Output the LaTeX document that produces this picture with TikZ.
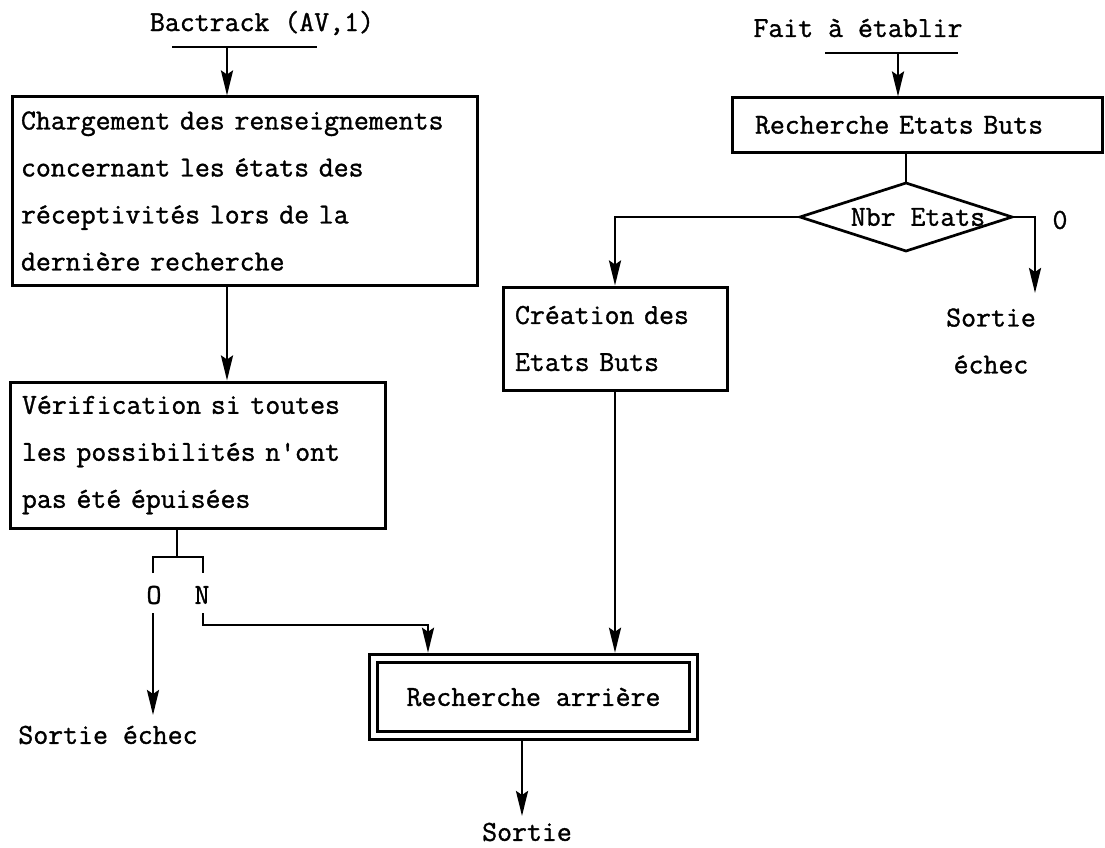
\documentclass[tikz,border=0pt]{standalone}
\usepackage{fontspec}
\newfontfamily\twfont{Latin Modern Mono}[FakeBold=1.2]
\usetikzlibrary{shapes.geometric,arrows.meta}
\begin{document}
\begin{tikzpicture}[x=1pt,y=-1pt,
  tt/.style={font=\fontsize{29}{47}\selectfont\twfont},
  box/.style={tt, draw, line width=3pt, align=left, inner ysep=0pt},
  conn/.style={line width=2.7pt, -{Stealth[length=25pt,width=12pt,inset=4pt]}},
  plain/.style={line width=2.7pt},
  lbl/.style={tt, inner sep=0pt}]
\useasboundingbox (0,0) rectangle (1105,848);

% ---------- left column ----------
\node[lbl] (bact) at (262,23) {Bactrack (AV,1)};
\coordinate (b1l) at (172,47);
\coordinate (b1r) at (317,47);
\coordinate (in1) at (227,47);
\draw[plain] (b1l) -- (b1r);

\node[box, text width=447pt, inner xsep=9pt, minimum height=188pt] (charg) at (244.5,191)
  {Chargement des renseignements\\concernant les états des\\réceptivités lors de la\\dernière recherche};
\draw[conn] (in1) -- (in1 |- charg.north);

\node[box, text width=351pt, inner xsep=12pt, minimum height=146pt] (verif) at (197.5,455)
  {Vérification si toutes\\les possibilités n'ont\\pas été épuisées};
\draw[conn] (in1 |- charg.south) -- (in1 |- verif.north);

\coordinate (vs) at (177,557);
\coordinate (olt) at (153,573);
\coordinate (nrt) at (203,573);
\draw[plain] (vs |- verif.south) -- (vs);
\draw[plain] (olt) -- (olt |- vs) -- (nrt |- vs) -- (nrt);
\node[lbl] (O1) at (154,595) {O};
\node[lbl] (N1) at (202,595) {N};

\coordinate (ostart) at (153,613);
\coordinate (oend) at (153,715);
\draw[conn] (ostart) -- (oend);
\node[lbl] (se1) at (108,735) {Sortie échec};

% ---------- bottom ----------
\node[tt, draw, line width=3pt, double, double distance=5pt, minimum width=320pt,
      minimum height=77.5pt, outer sep=5.5pt, inner sep=0pt] (rech) at (533.5,697)
  {Recherche arrière};

\coordinate (nstart) at (203,613);
\coordinate (nturn) at (428,625);
\draw[conn] (nstart) |- (nturn) -- (nturn |- rech.north);

\coordinate (exit) at (522,816);
\draw[conn] (exit |- rech.south) -- (exit);
\node[lbl] (sortie) at (527,832) {Sortie};

% ---------- right column ----------
\node[lbl] (fait) at (858,28) {Fait à établir};
\coordinate (b2l) at (825,53);
\coordinate (b2r) at (958,53);
\coordinate (in2) at (898,53);
\draw[plain] (b2l) -- (b2r);

\node[box, text width=324pt, inner xsep=23pt, minimum height=54pt] (reb) at (917,125)
  {Recherche Etats Buts};
\draw[conn] (in2) -- (in2 |- reb.north);

\node[tt, diamond, draw, line width=2.7pt, minimum width=212pt, minimum height=68pt,
      inner sep=0pt, outer sep=0pt] (nbr) at (906,217)
  {\makebox[0pt]{\hspace{24pt}Nbr Etats}};
\draw[plain] (nbr.north |- reb.south) -- (nbr.north);

\node[box, text width=200pt, inner xsep=12pt, minimum height=103pt] (crea) at (615,338.5)
  {Création des\\Etats Buts};
\draw[conn] (nbr.west) -| (crea.north);
\draw[conn] (crea.south) -- (crea.south |- rech.north);

\coordinate (zend) at (1035,293);
\draw[conn] (nbr.east) -| (zend);
\node[lbl] (zero) at (1060,220) {0};
\node[lbl, align=center] (se2) at (991,341) {Sortie\\échec};
\end{tikzpicture}
\end{document}
